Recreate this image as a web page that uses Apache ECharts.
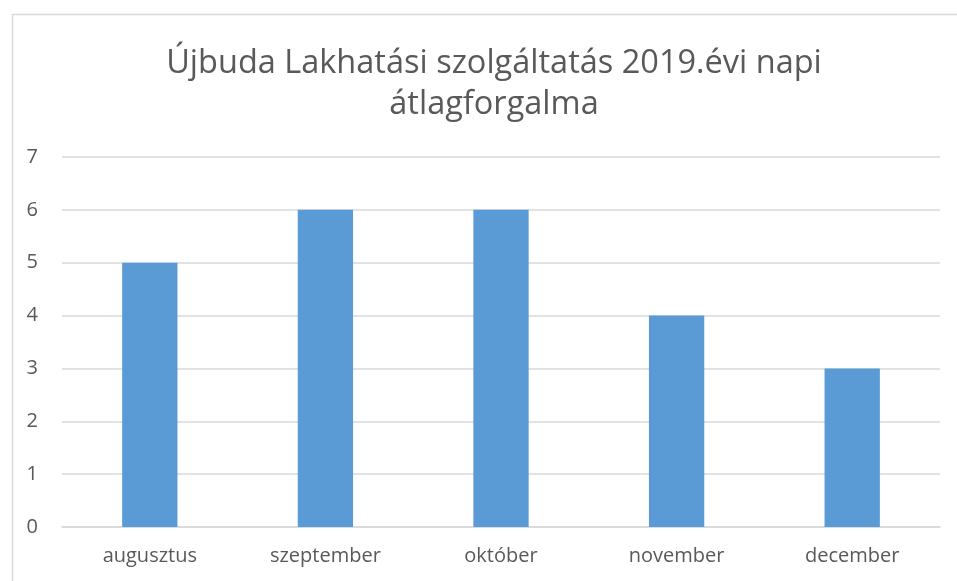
<!DOCTYPE html>
<html><head><meta charset="utf-8">
<script src="https://cdn.jsdelivr.net/npm/echarts@6/dist/echarts.min.js"></script>
<style>html,body{margin:0;padding:0;background:#fff}#c{width:957px;height:581px}</style>
</head><body><div id="c"></div>
<script>
const categories = ['augusztus', 'szeptember', 'október', 'november', 'december'];
const values = [5, 6, 6, 4, 3];
const titleText = 'Újbuda Lakhatási szolgáltatás 2019.évi napi\nátlagforgalma';

const chart = echarts.init(document.getElementById('c'));
chart.setOption({
  animation: false,
  backgroundColor: '#fff',
  graphic: [{
    type: 'rect', left: 10, top: 12,
    shape: { width: 960, height: 580 },
    style: { fill: 'none', stroke: '#d9d9d9', lineWidth: 1.5 },
    z: -1
  }],
  title: {
    text: titleText,
    left: 489, textAlign: 'center', top: 38,
    textStyle: { fontFamily: 'Open Sans', fontWeight: 'normal', fontSize: 32.5, color: '#595959', lineHeight: 41 }
  },
  grid: { left: 62, right: 17, top: 157, bottom: 54 },
  xAxis: {
    type: 'category', data: categories,
    axisLine: { lineStyle: { color: '#d9d9d9', width: 1.5 } },
    axisTick: { show: false },
    axisLabel: { color: '#595959', fontSize: 20, fontFamily: 'Open Sans', margin: 19 }
  },
  yAxis: {
    type: 'value', min: 0, max: 7, interval: 1,
    axisLine: { show: false }, axisTick: { show: false },
    splitLine: { lineStyle: { color: '#d9d9d9', width: 1.5 } },
    axisLabel: { color: '#595959', fontSize: 20, fontFamily: 'Open Sans', margin: 24 }
  },
  series: [{
    type: 'bar', data: values, barWidth: '31.5%',
    itemStyle: { color: '#5b9bd5' }
  }]
});
</script></body></html>
